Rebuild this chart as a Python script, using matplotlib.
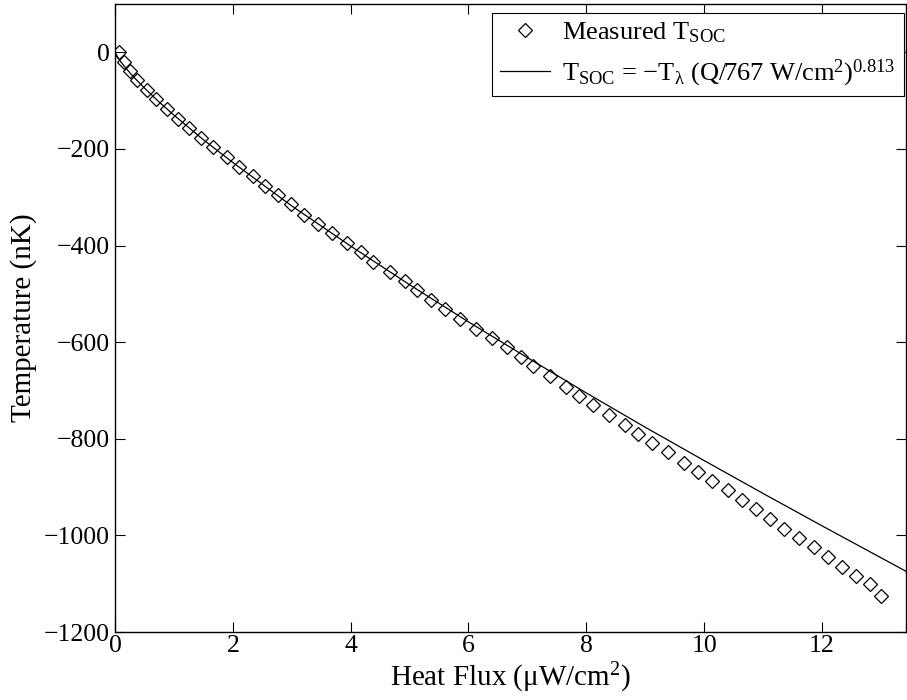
import matplotlib
matplotlib.use("Agg")
import matplotlib.pyplot as plt

plt.rcParams['font.family'] = ['Liberation Serif', 'DejaVu Serif']
plt.rcParams['mathtext.fontset'] = 'custom'
plt.rcParams['mathtext.rm'] = 'Liberation Serif'
plt.rcParams['mathtext.it'] = 'Liberation Serif'
plt.rcParams['mathtext.bf'] = 'Liberation Serif:bold'

# measured surface temperature points
meas_q = [0.07, 0.15, 0.25, 0.37, 0.54, 0.70, 0.88, 1.07, 1.26, 1.46,
          1.67, 1.90, 2.11, 2.34, 2.55, 2.77, 2.99, 3.21, 3.45, 3.68,
          3.93, 4.17, 4.38, 4.67, 4.92, 5.13, 5.36, 5.60, 5.86, 6.12,
          6.40, 6.66, 6.89, 7.09, 7.39, 7.66, 7.88, 8.11, 8.38, 8.66,
          8.88, 9.11, 9.39, 9.66, 9.89, 10.14, 10.41, 10.65, 10.89, 11.12,
          11.35, 11.62, 11.87, 12.10, 12.34, 12.58, 12.81, 13.00]
meas_t = [0, -20, -39, -58, -79, -97, -118, -138, -157, -177,
          -197, -216, -237, -256, -276, -296, -315, -336, -356, -375,
          -394, -414, -434, -455, -474, -492, -512, -532, -552, -572,
          -591, -611, -631, -650, -671, -692, -711, -731, -751, -771,
          -790, -809, -828, -850, -868, -888, -907, -926, -946, -966,
          -987, -1006, -1025, -1044, -1065, -1083, -1101, -1125]

# fit curve, values
fit_q = [0, 0.05, 0.1, 0.2, 0.3, 0.5, 0.75, 1, 1.5, 2, 3, 4, 5, 6, 7,
         8, 9, 10, 11, 12, 13, 13.5]
fit_t = [0, -11, -20, -35, -49, -74, -103, -130, -181, -228, -318, -401,
         -481, -558, -632, -705, -776, -845, -913, -980, -1046, -1079]

fig = plt.figure(figsize=(9.07, 7.0), dpi=100)
ax = fig.add_axes([0.1268, 0.0971, 0.8722, 0.8972])

ax.plot(meas_q, meas_t, linestyle='none', marker='D', markersize=7.5,
        markerfacecolor='none', markeredgecolor='black', markeredgewidth=0.9,
        label=r'Measured T$_{\mathrm{SOC}}$')
ax.plot(fit_q, fit_t, color='black', linewidth=0.9,
        label=r'T$_{\mathrm{SOC}}$ = $-$T$_{\mathrm{λ}}$ (Q/767 W/cm$^{2}$)$^{0.813}$')

ax.set_xlim(0, 13.43)
ax.set_ylim(-1200, 100)
ax.set_xticks([0, 2, 4, 6, 8, 10, 12])
ax.set_yticks([-1200, -1000, -800, -600, -400, -200, 0])
ax.tick_params(direction='in', top=True, right=True, length=7, width=0.8,
               labelsize=18.5)
ax.tick_params(axis='x', pad=2)
ax.tick_params(axis='y', pad=4)
ax.set_yticklabels(['\u22121200', '\u22121000', '\u2212800', '\u2212600',
                    '\u2212400', '\u2212200', '0'])
for s in ax.spines.values():
    s.set_linewidth(1.0)

ax.set_xlabel(r'Heat Flux ($\mathrm{μ}$W/cm$^{2}$)', fontsize=21, labelpad=3)
ax.set_ylabel('Temperature (nK)', fontsize=21, labelpad=5)

leg = ax.legend(loc='upper right', bbox_to_anchor=(0.997, 0.986),
                borderaxespad=0, fontsize=19, frameon=True, fancybox=False,
                edgecolor='black', framealpha=1, handlelength=1.9,
                handletextpad=0.45, borderpad=0.3, labelspacing=0.45)
leg.get_frame().set_linewidth(0.8)

fig.savefig('out.png', dpi=100)
